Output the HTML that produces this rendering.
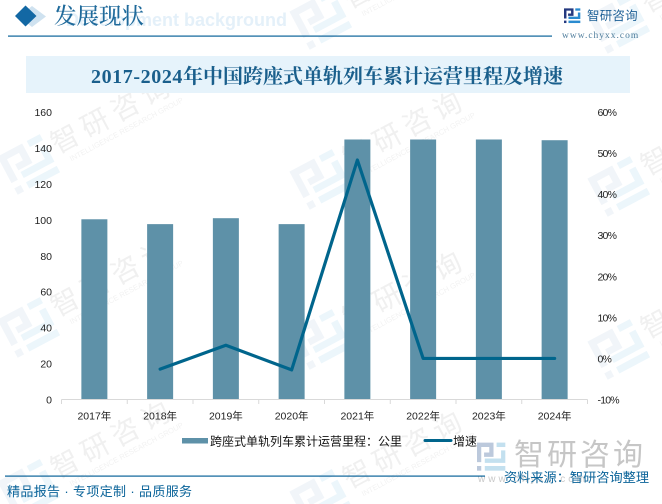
<!DOCTYPE html>
<html lang="zh">
<head>
<meta charset="utf-8">
<title>2017-2024年中国跨座式单轨列车累计运营里程及增速</title>
<style>
html,body{margin:0;padding:0;background:#fff;width:662px;height:504px;overflow:hidden;}
svg{display:block;}
text{font-family:"Liberation Sans","Noto Sans CJK SC",sans-serif;}
.serif{font-family:"Liberation Serif","Noto Serif CJK SC",serif;}
.wm-cn{font-size:28px;letter-spacing:6px;fill:#f0f0f0;text-anchor:middle;}
.wm-en{font-size:7.5px;fill:#f2f2f2;}
.tick{font-size:10.5px;fill:#222;}
.tick-pct{font-size:10.5px;letter-spacing:-0.8px;fill:#222;}
</style>
</head>
<body>
<svg id="canvas" width="662" height="504" viewBox="0 0 662 504" xmlns="http://www.w3.org/2000/svg">
  <defs>
    <g id="logo-left"><path d="M0 2H14V13H6V9.6H10.4V5.4H3.6V17H0Z"/><rect x="0" y="20" width="3.6" height="3.6"/></g>
    <g id="logo-right"><path d="M16.6 2H24V5.4H16.6Z"/><path d="M20.4 8H24V17.6H6.6V14.2H20.4Z"/><rect x="6.6" y="20" width="17.4" height="3.6"/></g>
  </defs>
  <rect width="662" height="504" fill="#ffffff"/>

  <g id="watermarks">
    <g transform="translate(28,163) rotate(-28)">
      <g transform="translate(-24,-24) scale(2)"><use href="#logo-left" fill="#f1f5f9"/><use href="#logo-right" fill="#ecf6fb"/></g>
      <text class="wm-cn" x="98" y="6">智研咨询</text><text class="wm-en" x="39" y="19">INTELLIGENCE RESEARCH GROUP</text>
    </g>
    <g transform="translate(28,326) rotate(-28)">
      <g transform="translate(-24,-24) scale(2)"><use href="#logo-left" fill="#f1f5f9"/><use href="#logo-right" fill="#ecf6fb"/></g>
      <text class="wm-cn" x="98" y="6">智研咨询</text><text class="wm-en" x="39" y="19">INTELLIGENCE RESEARCH GROUP</text>
    </g>
    <g>
      <polygon fill="#f1f5f9" points="0,480.2 22.1,468.4 32.4,487.9 18.3,495.4 15.1,489.4 22.9,485.3 19,477.8 7,484.2 17.5,504 9.4,504 0,486.5"/>
      <polygon fill="#ecf6fb" points="26.7,466 39.8,459 43,465 29.9,472"/>
      <polygon fill="#ecf6fb" points="39,473 45.4,469.6 54.5,486.6 23.8,503 20.6,497 44.9,484"/>
      <polygon fill="#ecf6fb" points="56.7,490.8 60.1,497.2 47.2,504 31.7,504"/>
      <text class="wm-cn" transform="translate(28,488) rotate(-28)" x="98" y="6">智研咨询</text>
      <text class="wm-en" transform="translate(28,488) rotate(-28)" x="39" y="19">INTELLIGENCE RESEARCH GROUP</text>
    </g>
    <g transform="translate(320,18) rotate(-28)">
      <g transform="translate(-24,-24) scale(2)"><use href="#logo-left" fill="#f1f5f9"/><use href="#logo-right" fill="#ecf6fb"/></g>
      <text class="wm-cn" x="98" y="6">智研咨询</text><text class="wm-en" x="39" y="19">INTELLIGENCE RESEARCH GROUP</text>
    </g>
    <g transform="translate(320,178) rotate(-28)">
      <g transform="translate(-24,-24) scale(2)"><use href="#logo-left" fill="#f1f5f9"/><use href="#logo-right" fill="#ecf6fb"/></g>
      <text class="wm-cn" x="98" y="6">智研咨询</text><text class="wm-en" x="39" y="19">INTELLIGENCE RESEARCH GROUP</text>
    </g>
    <g transform="translate(320,338) rotate(-28)">
      <g transform="translate(-24,-24) scale(2)"><use href="#logo-left" fill="#f1f5f9"/><use href="#logo-right" fill="#ecf6fb"/></g>
      <text class="wm-cn" x="98" y="6">智研咨询</text><text class="wm-en" x="39" y="19">INTELLIGENCE RESEARCH GROUP</text>
    </g>
    <g>
      <polygon fill="#f1f5f9" points="289.4,491.6 314.1,478.4 324.4,497.9 313.3,504 309.6,504 307.1,499.4 314.9,495.3 311,487.8 299,494.2 304.2,504 296,504"/>
      <polygon fill="#ecf6fb" points="318.7,476 331.8,469 335,475 321.9,482"/>
      <polygon fill="#ecf6fb" points="331,483 337.4,479.6 346.5,496.6 332.7,504 318.2,504 336.9,494"/>
      <polygon fill="#ecf6fb" points="348.7,500.8 350.4,504 342.6,504"/>
      <text class="wm-cn" transform="translate(320,498) rotate(-28)" x="98" y="6">智研咨询</text>
      <text class="wm-en" transform="translate(320,498) rotate(-28)" x="39" y="19">INTELLIGENCE RESEARCH GROUP</text>
    </g>
    <g transform="translate(618,22) rotate(-28)">
      <g transform="translate(-24,-24) scale(2)"><use href="#logo-left" fill="#f1f5f9"/><use href="#logo-right" fill="#ecf6fb"/></g>
      <text class="wm-cn" x="98" y="6">智研咨询</text><text class="wm-en" x="39" y="19">INTELLIGENCE RESEARCH GROUP</text>
    </g>
    <g transform="translate(618,185) rotate(-28)">
      <g transform="translate(-24,-24) scale(2)"><use href="#logo-left" fill="#f1f5f9"/><use href="#logo-right" fill="#ecf6fb"/></g>
      <text class="wm-cn" x="98" y="6">智研咨询</text><text class="wm-en" x="39" y="19">INTELLIGENCE RESEARCH GROUP</text>
    </g>
    <g transform="translate(618,348) rotate(-28)">
      <g transform="translate(-24,-24) scale(2)"><use href="#logo-left" fill="#f1f5f9"/><use href="#logo-right" fill="#ecf6fb"/></g>
      <text class="wm-cn" x="98" y="6">智研咨询</text><text class="wm-en" x="39" y="19">INTELLIGENCE RESEARCH GROUP</text>
    </g>
  </g>

  <g>
    <text x="287" y="26" text-anchor="end" font-size="18" font-weight="700" fill="#e4f0f9">Development background</text>
    <path d="M32 6L46 16.5L32 27L19 16.5Z" fill="#cfe2f0"/>
    <path d="M25.5 5.5L36.5 16L25.5 26.5L15 16Z" fill="#1368a4"/>
    <text class="serif" x="54" y="24" font-size="22.5" fill="#1f6a9b" font-weight="500">发展现状</text>
    <rect x="8" y="35.5" width="544" height="1.2" fill="#0a6399"/>
  </g>

  <g>
    <g transform="translate(564,7) scale(0.68)"><use href="#logo-left" fill="#24397f"/><use href="#logo-right" fill="#2a8bd0"/></g>
    <text x="587" y="20" font-size="12.5" letter-spacing="0.2" fill="#1c5f95">智研咨询</text>
    <text class="serif" x="562" y="38" font-size="9.5" letter-spacing="1" fill="#4f7d9c">www.chyxx.com</text>
  </g>

  <rect x="26" y="56" width="604" height="37" fill="#e6f3fb"/>
  <text class="serif" x="327" y="83" text-anchor="middle" font-size="20" font-weight="700" fill="#1a5f8c"><tspan letter-spacing="0.6">2017-2024</tspan>年中国跨座式单轨列车累计运营里程及增速</text>

  <g id="plot"></g>

  <g>
    <g>
      <rect x="182" y="438" width="26" height="5.5" fill="#5e91a8"/>
      <text x="210" y="445.5" font-size="12" fill="#111">跨座式单轨列车累计运营里程&#xFF1A;公里</text>
    </g>
    <g>
      <line x1="425" y1="440.5" x2="451" y2="440.5" stroke="#00658c" stroke-width="3" stroke-linecap="round"/>
      <text x="453" y="445.5" font-size="12" fill="#111">增速</text>
    </g>
  </g>

  <g>
    <g transform="translate(477,440) scale(1.18,1.3)"><use href="#logo-left" fill="#bcc9dc"/><use href="#logo-right" fill="#c3e0ef"/></g>
    <text x="514" y="465" font-size="30" letter-spacing="3" fill="#c6c6c6">智研咨询</text>
    <text x="478" y="482" font-size="10" letter-spacing="3" fill="#c9c9c9">www.chyxx.com</text>
  </g>

  <g>
    <rect x="5" y="475.5" width="480" height="1.2" fill="#0a6399"/>
    <text x="7" y="496" font-size="13" letter-spacing="0.35" fill="#0a6399">精品报告 · 专项定制 · 品质服务</text>
    <text x="504" y="482" font-size="13.2" fill="#0a6399">资料来源&#xFF1A;智研咨询整理</text>
  </g>
</svg>

<script>
const categories = ['2017年','2018年','2019年','2020年','2021年','2022年','2023年','2024年'];
const mileageValues = [100.3, 97.6, 100.9, 97.6, 144.7, 144.7, 144.7, 144.3];
const growthValues = [null, -2.6, 3.2, -2.8, 48.3, 0, 0, 0];
const leftTicks = [0, 20, 40, 60, 80, 100, 120, 140, 160];
const rightTicks = [-10, 0, 10, 20, 30, 40, 50, 60];

const NS = 'http://www.w3.org/2000/svg';
const plot = document.getElementById('plot');
const plotLeft = 61.5, plotRight = 587.5, plotTop = 112, plotBottom = 399.5;
const barWidth = 26;

function bandCenter(i) { return plotLeft + (plotRight - plotLeft) * (i + 0.5) / categories.length; }
function bandEdge(i) { return plotLeft + (plotRight - plotLeft) * i / categories.length; }
function yLeft(v) { return plotBottom - (v - leftTicks[0]) / (leftTicks[leftTicks.length - 1] - leftTicks[0]) * (plotBottom - plotTop); }
function yRight(v) { return plotBottom - (v - rightTicks[0]) / (rightTicks[rightTicks.length - 1] - rightTicks[0]) * (plotBottom - plotTop); }
function make(tag, attrs) {
  const el = document.createElementNS(NS, tag);
  for (const k in attrs) el.setAttribute(k, attrs[k]);
  return el;
}

mileageValues.forEach(function (v, i) {
  const bar = make('rect', { x: bandCenter(i) - barWidth / 2, y: yLeft(v), width: barWidth, height: plotBottom - yLeft(v), fill: '#5e91a8' });
  
  
  plot.appendChild(bar);
});

const axis = make('line', { x1: plotLeft, x2: plotRight, y1: plotBottom, y2: plotBottom, stroke: '#d9d9d9', 'stroke-width': 1 });


plot.appendChild(axis);

for (let i = 0; i <= categories.length; i++) {
  const t = make('line', { x1: bandEdge(i), x2: bandEdge(i), y1: plotBottom, y2: plotBottom + 4.5, stroke: '#d9d9d9', 'stroke-width': 1 });
  
  
  plot.appendChild(t);
}

categories.forEach(function (c, i) {
  const t = make('text', { x: bandCenter(i), y: 419.5, 'text-anchor': 'middle', class: 'tick' });
  
  
  t.textContent = c;
  plot.appendChild(t);
});

leftTicks.forEach(function (v) {
  const t = make('text', { x: 52, y: yLeft(v) + 4, 'text-anchor': 'end', class: 'tick' });
  
  
  t.textContent = v;
  plot.appendChild(t);
});

rightTicks.forEach(function (v) {
  const t = make('text', { x: 597.5, y: yRight(v) + 4, class: 'tick-pct' });
  
  
  t.textContent = v + '%';
  plot.appendChild(t);
});

const pts = [];
growthValues.forEach(function (v, i) {
  if (v !== null) pts.push(bandCenter(i) + ',' + yRight(v));
});
const line = make('polyline', { points: pts.join(' '), fill: 'none', stroke: '#00658c', 'stroke-width': 3.2, 'stroke-linecap': 'round', 'stroke-linejoin': 'round' });


plot.appendChild(line);
</script>
</body>
</html>
